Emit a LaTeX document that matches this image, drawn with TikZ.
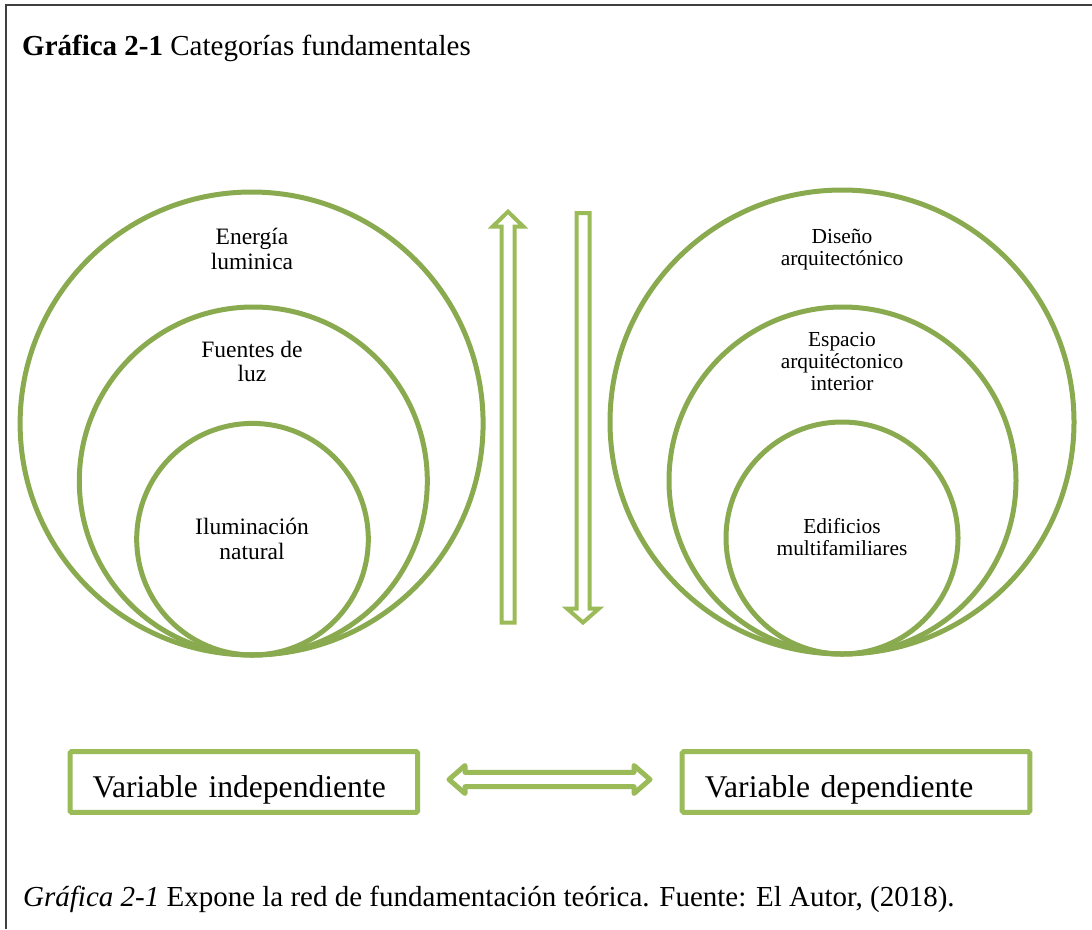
\documentclass[tikz,border=0pt]{standalone}
\usepackage{fontspec}
\setmainfont{Liberation Serif}
\definecolor{ringgreen}{RGB}{138,170,80}
\definecolor{boxgreen}{RGB}{155,187,89}
\definecolor{framegray}{RGB}{64,64,64}
\begin{document}
\begin{tikzpicture}[x=1pt,y=-1pt,
  ring/.style={circle, draw=ringgreen, line width=5pt, minimum size=#1, inner sep=0pt},
  lbl/.style={align=center, font=\fontsize{23.5}{24.5}\selectfont, inner sep=0pt, anchor=base},
  rlbl/.style={align=center, font=\fontsize{21.4}{22}\selectfont, inner sep=0pt, anchor=base},
  varbox/.style={draw=boxgreen, line width=5pt, rounded corners=1.5pt, minimum width=347.7pt,
    minimum height=60.6pt, inner ysep=0pt, inner xsep=22.7pt, text width=302.3pt, align=left,
    text height=45.3pt, text depth=15.3pt, font=\fontsize{31.6}{36}\selectfont},
  vblock/.style={draw=boxgreen, line width=4pt, line join=miter},
  hblock/.style={draw=boxgreen, line width=5pt, line join=round},
  headtext/.style={inner sep=0pt, anchor=base west, font=\fontsize{29}{33}\selectfont}
]
\useasboundingbox (0,0) rectangle (1092,929);
\fill[white] (0,0) rectangle (1092,929);
\draw[framegray, line width=1.5pt] (6,929) -- (6,5) -- (1092,5);

\node[headtext] (title) at (22,55) {\textbf{Gráfica 2-1} Categorías fundamentales};

% left rings
\node[ring=463pt] (lo) at (251.6,423.5) {};
\node[ring=348pt] (lm) at (253.3,481) {};
\node[ring=231.6pt] (li) at (252.5,539.2) {};
\node[lbl] (tlo) at (252,269) {Energía\\luminica};
\node[lbl] (tlm) at (252,381.5) {Fuentes de\\luz};
\node[lbl] (tli) at (252,559) {Iluminación\\natural};

% right rings
\node[ring=464pt] (ro) at (842,422) {};
\node[ring=347pt] (rm) at (842.5,480.5) {};
\node[ring=232pt] (ri) at (842,538) {};
\node[rlbl] (tro) at (842,265.7) {Diseño\\arquitectónico};
\node[rlbl] (trm) at (842,390) {Espacio\\arquitéctonico\\interior};
\node[rlbl] (tri) at (842,555.7) {Edificios\\multifamiliares};

% vertical block arrows
\draw[vblock] (501.5,622.7) -- (501.5,226.7) -- (492.5,226.7) -- (508,211.7) -- (523.5,226.7)
  -- (514.5,226.7) -- (514.5,622.7) -- cycle;
\draw[vblock] (576.5,213) -- (576.5,608.5) -- (567,608.5) -- (583,622.5) -- (599,608.5)
  -- (589.5,608.5) -- (589.5,213) -- cycle;

% boxes
\node[varbox] (vi) at (243.85,782) {Variable independiente};
\node[varbox] (vd) at (856,782) {Variable dependiente};

% horizontal double block arrow
\draw[hblock] (449,779.5) -- (465,765.5) -- (465,772.3) -- (634,772.3) -- (634,765.5)
  -- (650,779.5) -- (634,793.5) -- (634,786.7) -- (465,786.7) -- (465,793.5) -- cycle;

\node[headtext] (caption) at (23,906) {\textit{Gráfica 2-1} Expone la red de fundamentación teórica. Fuente: El Autor, (2018).};
\end{tikzpicture}
\end{document}
